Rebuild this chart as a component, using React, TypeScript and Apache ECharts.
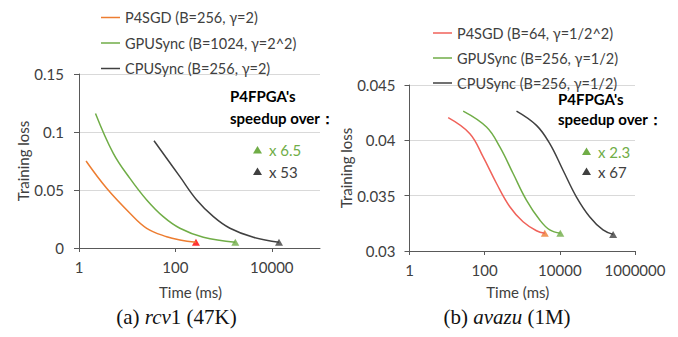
import React, { useEffect, useRef } from "react";
import * as echarts from "echarts";

// ---- Panel (a) rcv1 ----
const leftNames = ["P4SGD (B=256, γ=2)", "GPUSync (B=1024, γ=2^2)", "CPUSync (B=256, γ=2)"];
const p4LeftT = [1.4, 3.75, 11.4, 25.4, 66, 124, 267];
const p4LeftLoss = [0.075, 0.0515, 0.030, 0.017, 0.0097, 0.0069, 0.005];
const gpuLeftT = [2.2, 5.15, 11.4, 25.4, 56, 124, 380, 1750];
const gpuLeftLoss = [0.116, 0.0816, 0.06, 0.0414, 0.027, 0.017, 0.0092, 0.005];
const cpuLeftT = [36, 124, 277, 615, 1355, 4150, 14100];
const cpuLeftLoss = [0.0925, 0.0615, 0.0414, 0.027, 0.017, 0.0092, 0.005];
const leftSpeedups = ["x 6.5", "x 53"];

// ---- Panel (b) avazu ----
const rightNames = ["P4SGD (B=64, γ=1/2^2)", "GPUSync (B=256, γ=1/2)", "CPUSync (B=256, γ=1/2)"];
const p4RightT = [10.7, 40.4, 91, 207, 467, 1050, 2390, 3980];
const p4RightLoss = [0.04205, 0.0406, 0.0385, 0.0361, 0.034, 0.03264, 0.03183, 0.0316];
const gpuRightT = [26.8, 112, 253, 571, 1290, 2925, 5400, 10300];
const gpuRightLoss = [0.04264, 0.0412, 0.0394, 0.037, 0.0346, 0.0328, 0.0319, 0.0316];
const cpuRightT = [703, 2390, 5400, 12170, 27500, 62000, 141000, 262000];
const cpuRightLoss = [0.04264, 0.04135, 0.0397, 0.0373, 0.0349, 0.0331, 0.0319, 0.0315];
const rightSpeedups = ["x 2.3", "x 67"];

const ORANGE = "#ED7D31";
const GREEN = "#70AD47";
const DARK = "#404040";
const RED = "#F0625A";
const PURE_RED = "#FF0000";
const TXT = "#404040";
const FONT = "Lato";
const FS = 15;

const zip = (t: number[], l: number[]) => t.map((v, i) => [v, l[i]]);
const last = (t: number[], l: number[]) => [t[t.length - 1], l[l.length - 1]];

function lineSeries(name: string, t: number[], l: number[], color: string, idx: number) {
  return {
    type: "line",
    name,
    xAxisIndex: idx,
    yAxisIndex: idx,
    data: zip(t, l),
    smooth: 0.4,
    symbol: "none",
    lineStyle: { color, width: 1.5 },
    itemStyle: { color },
  };
}

function endMarkers(points: number[][], colors: string[], idx: number) {
  return {
    type: "scatter",
    xAxisIndex: idx,
    yAxisIndex: idx,
    symbol: "triangle",
    symbolSize: [8, 7],
    data: points.map((p, i) => ({ value: p, itemStyle: { color: colors[i] } })),
  };
}

function xAxis(idx: number, max: number, shift: number, gap: number, hideMax: boolean) {
  return {
    type: "log",
    logBase: 100,
    gridIndex: idx,
    min: 1,
    max,
    name: "Time (ms)",
    nameLocation: "middle",
    nameGap: gap,
    nameTextStyle: { color: TXT, fontSize: FS, fontFamily: FONT, padding: [0, shift, 0, 0] },
    axisLine: { lineStyle: { color: "#595959", width: 1 } },
    axisTick: { show: true, length: 4, lineStyle: { color: "#595959" } },
    axisLabel: {
      color: TXT,
      fontSize: FS,
      fontFamily: FONT,
      margin: 11,
      showMaxLabel: !hideMax,
      formatter: (v: number) => String(Math.round(v)),
    },
    splitLine: { show: false },
    minorTick: { show: false },
  };
}

function yAxis(idx: number, min: number, max: number, interval: number, gap: number, margin: number) {
  return {
    type: "value",
    gridIndex: idx,
    min,
    max,
    interval,
    name: "Training loss",
    nameLocation: "middle",
    nameGap: gap,
    nameTextStyle: { color: TXT, fontSize: FS, fontFamily: FONT },
    axisLine: { show: true, lineStyle: { color: "#595959", width: 1 } },
    axisTick: { show: true, length: 5, lineStyle: { color: "#595959" } },
    axisLabel: { color: TXT, fontSize: FS, fontFamily: FONT, margin },
    splitLine: { show: true, lineStyle: { color: "#D9D9D9", width: 1 } },
  };
}

function tri(x: number, y: number, color: string) {
  return {
    type: "polygon",
    shape: { points: [[x, y - 4], [x + 4.5, y + 3.5], [x - 4.5, y + 3.5]] },
    style: { fill: color },
  };
}

function txt(x: number, y: number, text: string, color: string, bold = false) {
  return {
    type: "text",
    x,
    y,
    style: {
      text,
      fill: color,
      fontSize: FS,
      fontFamily: FONT,
      fontWeight: bold ? "bold" : "normal",
      verticalAlign: "middle",
      align: "left",
    },
  };
}

function caption(cx: number, y: number, pre: string, it: string, post: string) {
  return {
    type: "text",
    x: cx,
    y,
    style: {
      text: `{n|${pre}}{i|${it}}{n|${post}}`,
      align: "center",
      verticalAlign: "middle",
      rich: {
        n: { fontFamily: "Liberation Serif", fontSize: 21, fill: "#111" },
        i: { fontFamily: "Liberation Serif", fontStyle: "italic", fontSize: 21, fill: "#111" },
      },
    },
  };
}

const legendIcon = "path://M0,0H38V3H0Z";

export default function App() {
  const ref = useRef<HTMLDivElement>(null);
  useEffect(() => {
    if (!ref.current) return;
    const chart = echarts.init(ref.current, undefined, { renderer: "svg" });
    chart.setOption({
      animation: false,
      backgroundColor: "#ffffff",
      textStyle: { fontFamily: FONT },
      grid: [
        { left: 79, top: 74, width: 241, height: 174 },
        { left: 409.5, top: 85, width: 225.5, height: 166 },
      ],
      legend: [
        {
          data: leftNames,
          orient: "vertical",
          left: 96,
          top: 5,
          icon: legendIcon,
          itemWidth: 19,
          itemHeight: 14,
          itemGap: 10.5,
          textStyle: { color: TXT, fontSize: 14.5, fontFamily: FONT, lineHeight: 14 },
        },
        {
          data: rightNames,
          orient: "vertical",
          left: 428,
          top: 20.5,
          icon: legendIcon,
          itemWidth: 19,
          itemHeight: 14,
          itemGap: 10,
          textStyle: { color: TXT, fontSize: 14.5, fontFamily: FONT, lineHeight: 14 },
        },
      ],
      xAxis: [xAxis(0, 100000, 18, 36, true), xAxis(1, 1000000, 9, 33, false)],
      yAxis: [yAxis(0, 0, 0.15, 0.05, 45, 15), yAxis(1, 0.03, 0.045, 0.005, 49, 14)],
      series: [
        lineSeries(leftNames[0], p4LeftT, p4LeftLoss, ORANGE, 0),
        lineSeries(leftNames[1], gpuLeftT, gpuLeftLoss, GREEN, 0),
        lineSeries(leftNames[2], cpuLeftT, cpuLeftLoss, DARK, 0),
        endMarkers(
          [last(p4LeftT, p4LeftLoss), last(gpuLeftT, gpuLeftLoss), last(cpuLeftT, cpuLeftLoss)],
          [PURE_RED, GREEN, DARK],
          0
        ),
        lineSeries(rightNames[0], p4RightT, p4RightLoss, RED, 1),
        lineSeries(rightNames[1], gpuRightT, gpuRightLoss, GREEN, 1),
        lineSeries(rightNames[2], cpuRightT, cpuRightLoss, DARK, 1),
        endMarkers(
          [last(p4RightT, p4RightLoss), last(gpuRightT, gpuRightLoss), last(cpuRightT, cpuRightLoss)],
          [ORANGE, GREEN, DARK],
          1
        ),
      ],
      graphic: [
        txt(230, 96, "P4FPGA's", "#000", true),
        txt(230, 117.5, "speedup over：", "#000", true),
        tri(257.5, 150, GREEN),
        txt(269, 150, leftSpeedups[0], GREEN),
        tri(257.5, 171.5, DARK),
        txt(269, 171.5, leftSpeedups[1], DARK),
        txt(558, 99, "P4FPGA's", "#000", true),
        txt(558, 118.5, "speedup over：", "#000", true),
        tri(586.5, 151.5, GREEN),
        txt(598, 151.5, rightSpeedups[0], GREEN),
        tri(586.5, 171.5, DARK),
        txt(598, 171.5, rightSpeedups[1], DARK),
        caption(176.5, 316.5, "(a) ", "rcv", "1 (47K)"),
        caption(507, 316.5, "(b) ", "avazu", " (1M)"),
      ],
    });
    return () => chart.dispose();
  }, []);
  return (
    <div
      ref={ref}
      style={{ position: "absolute", left: 0, top: 0, width: 678, height: 337 }}
    />
  );
}
